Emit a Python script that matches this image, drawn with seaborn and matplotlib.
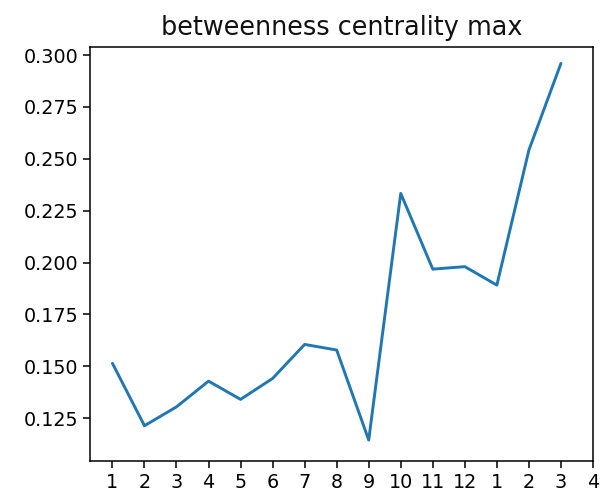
import matplotlib
matplotlib.use("Agg")
import matplotlib.pyplot as plt
import seaborn as sns
import pandas as pd

# monthly maximum of betweenness centrality
months = [1, 2, 3, 4, 5, 6, 7, 8, 9, 10, 11, 12, 1, 2, 3]
bc_max = [0.1514, 0.1213, 0.1304, 0.1428, 0.1340, 0.1441, 0.1605, 0.1578,
          0.1144, 0.2333, 0.1968, 0.1980, 0.1891, 0.2542, 0.2960]
tick_labels = ["1", "2", "3", "4", "5", "6", "7", "8", "9", "10", "11", "12",
               "1", "2", "3", "4"]

df = pd.DataFrame({"step": range(len(bc_max)), "value": bc_max})

sns.set_style("ticks")
plt.rcParams["font.family"] = ["DejaVu Sans"]

fig = plt.figure(figsize=(6.02, 4.96), dpi=100)
ax = fig.add_axes([0.1495, 0.0706, 0.8355, 0.8346])

sns.lineplot(data=df, x="step", y="value", ax=ax, color="#1f77b4", linewidth=2.1)

ax.set_xticks(range(len(tick_labels)))
ax.set_xticklabels(tick_labels)
ax.set_xlim(-0.7, 15)
ax.set_ylim(0.1043, 0.3039)
ax.set_yticks([0.125, 0.150, 0.175, 0.200, 0.225, 0.250, 0.275, 0.300])
ax.set_yticklabels([f"{v:.3f}" for v in ax.get_yticks()])
ax.tick_params(labelsize=13.8, length=4.8, width=1.1, colors="black")
for s in ax.spines.values():
    s.set_linewidth(1.1)
    s.set_color("black")
ax.set_xlabel("")
ax.set_ylabel("")
ax.set_title("betweenness centrality max", fontsize=18.4, pad=9, color="#111111")

fig.savefig("out.png", dpi=100)
